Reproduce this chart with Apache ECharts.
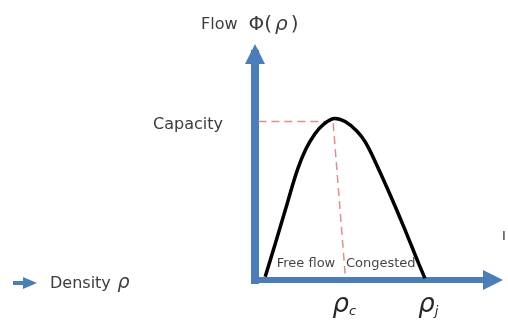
<!DOCTYPE html>
<html>
<head>
<meta charset="utf-8">
<script src="https://cdn.jsdelivr.net/npm/echarts@6/dist/echarts.min.js"></script>
<style>
  html, body { margin: 0; padding: 0; background: #fff; }
  #main { width: 508px; height: 324px; }
</style>
</head>
<body>
<div id="main"></div>
<script>
// flow-density curve (density: jam density ~1, flow: capacity ~1)
var density = [0.06, 0.12, 0.19, 0.25, 0.30, 0.35, 0.40, 0.47, 0.53, 0.60, 0.65, 0.72, 0.80, 0.88, 0.96, 1.00];
var flow    = [0.02, 0.23, 0.48, 0.69, 0.82, 0.91, 0.97, 1.01, 0.99, 0.93, 0.86, 0.71, 0.52, 0.32, 0.11, 0.01];

// capacity guide lines
var capFlow = 0.99;
var capLineX = [0.02, 0.47];
var critLineX = [0.46, 0.53];
var critLineY = [0.98, 0.04];

// tick labels
var xTickValues = [0.525, 1.02];
var xTickSubs = ['c', 'j'];
var yTickValues = [0.97];
var yTickLabels = ['Capacity'];

// region labels
var regionNames = ['Free flow', 'Congested'];
var regionX = [0.30, 0.74];
var regionY = [0.10, 0.10];

var FONT = 'DejaVu Sans';
var TXT = '#3c3c3c';
var BLUE = '#4a7ebb';
var DASH = '#dd8e8e';

var curve = [];
for (var i = 0; i < density.length; i++) {
    curve.push([density[i], flow[i]]);
}
var regions = [];
for (var i = 0; i < regionNames.length; i++) {
    regions.push({ value: [regionX[i], regionY[i]], name: regionNames[i] });
}

var option = {
    animation: false,
    backgroundColor: '#fff',
    title: {
        text: '{a|Flow}{p|Φ}{b|(}{c|ρ}{b|)}',
        left: 196,
        top: 10,
        textStyle: {
            fontWeight: 'normal',
            rich: {
                a: { fontFamily: FONT, fontSize: 16, fontWeight: 'normal', color: TXT },
                p: { fontFamily: FONT, fontSize: 20, fontWeight: 'normal', color: TXT, padding: [0, 0, 0, 11] },
                b: { fontFamily: FONT, fontSize: 20, fontWeight: 'normal', color: TXT },
                c: { fontFamily: FONT, fontSize: 20, fontWeight: 'normal', fontStyle: 'italic', color: TXT, padding: [0, 3, 0, 3] }
            }
        }
    },
    grid: {
        left: 255,
        right: 15,
        top: 54,
        bottom: 44
    },
    xAxis: {
        type: 'value',
        min: 0,
        max: 1.4,
        splitLine: { show: false },
        axisTick: { show: false },
        axisLine: {
            show: true,
            onZero: false,
            symbol: ['none', 'triangle'],
            symbolSize: [20, 20],
            lineStyle: { color: BLUE, width: 6, cap: 'square' }
        },
        axisLabel: {
            show: true,
            customValues: xTickValues,
            margin: 12,
            formatter: function (v) {
                var idx = xTickValues.indexOf(v);
                return '{r|ρ}{s|' + xTickSubs[idx] + '}';
            },
            rich: {
                r: { fontFamily: FONT, fontSize: 26, fontStyle: 'italic', color: '#262626' },
                s: { fontFamily: FONT, fontSize: 13, fontStyle: 'italic', color: '#262626', verticalAlign: 'bottom', padding: [10, 0, 0, 0] }
            }
        }
    },
    yAxis: {
        type: 'value',
        min: 0,
        max: 1.4125,
        splitLine: { show: false },
        axisTick: { show: false },
        axisLine: {
            show: true,
            onZero: false,
            symbol: ['none', 'triangle'],
            symbolSize: [20, 20],
            lineStyle: { color: BLUE, width: 8, cap: 'square' }
        },
        axisLabel: {
            show: true,
            customValues: yTickValues,
            margin: 32,
            fontFamily: FONT,
            fontSize: 16,
            color: TXT,
            formatter: function (v) {
                return yTickLabels[yTickValues.indexOf(v)];
            }
        }
    },
    series: [
        {
            name: 'capacity',
            type: 'line',
            data: [[capLineX[0], capFlow], [capLineX[1], capFlow]],
            symbol: 'none',
            lineStyle: { color: DASH, width: 1.5, type: [8, 5] },
            z: 3
        },
        {
            name: 'critical',
            type: 'line',
            data: [[critLineX[0], critLineY[0]], [critLineX[1], critLineY[1]]],
            symbol: 'none',
            lineStyle: { color: DASH, width: 1.5, type: [8, 5] },
            z: 3
        },
        {
            name: 'flow',
            type: 'line',
            data: curve,
            smooth: 0.4,
            symbol: 'none',
            lineStyle: { color: '#000', width: 3.5 },
            z: 4
        },
        {
            name: 'regions',
            type: 'scatter',
            data: regions,
            symbolSize: 0,
            label: {
                show: true,
                position: 'inside',
                formatter: '{b}',
                fontFamily: FONT,
                fontSize: 13,
                color: '#111'
            },
            z: 5
        }
    ],
    graphic: [
        {
            type: 'polygon',
            shape: { points: [[13, 281], [23, 281], [23, 277], [37, 283], [23, 289], [23, 285], [13, 285]] },
            style: { fill: BLUE }
        },
        {
            type: 'text',
            left: 50,
            top: 274,
            style: {
                text: '{a|Density}  {b|ρ}',
                rich: {
                    a: { fontFamily: FONT, fontSize: 16, fill: TXT },
                    b: { fontFamily: FONT, fontSize: 19, fontStyle: 'italic', fill: TXT }
                }
            }
        },
        {
            type: 'text',
            left: 502,
            top: 230,
            style: { text: 'I', fontFamily: FONT, fontSize: 13, fill: '#333' }
        }
    ]
};

var myChart = echarts.init(document.getElementById('main'));
myChart.setOption(option);
</script>
</body>
</html>
